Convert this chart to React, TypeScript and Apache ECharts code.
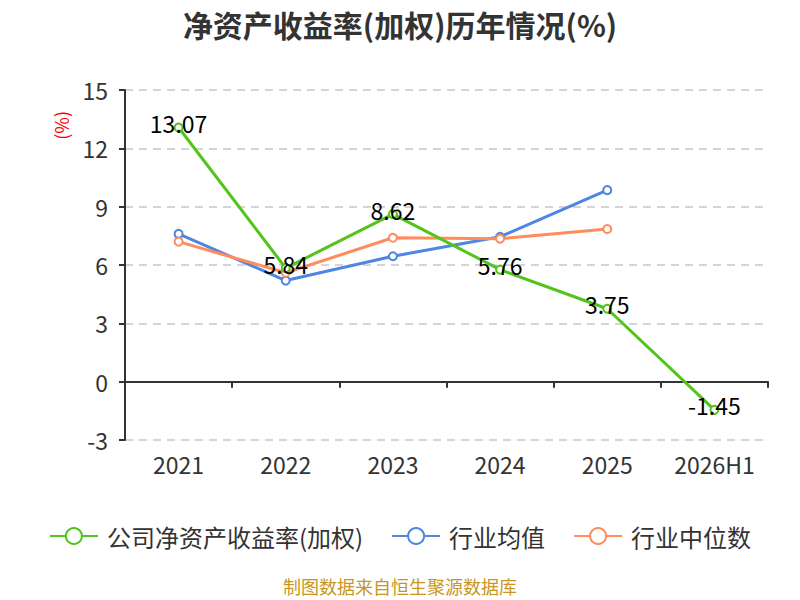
import React, { useEffect, useRef } from "react";
import * as echarts from "echarts";

const categories = ["2021", "2022", "2023", "2024", "2025", "2026H1"];
const companyRoe = [13.07, 5.84, 8.62, 5.76, 3.75, -1.45];
const industryAvg = [7.6, 5.2, 6.45, 7.45, 9.85, null];
const industryMedian = [7.2, 5.6, 7.4, 7.35, 7.85, null];
const seriesNames = ["公司净资产收益率(加权)", "行业均值", "行业中位数"];

const FONT = "'Noto Sans CJK SC', 'Noto Sans', sans-serif";

export default function App() {
  const ref = useRef<HTMLDivElement>(null);
  useEffect(() => {
    if (!ref.current) return;
    const chart = echarts.init(ref.current, null, { renderer: "svg" });
    const mkSeries = (name: string, data: any[], color: string, label: boolean) => ({
      name,
      type: "line",
      data,
      xAxisIndex: 0,
      symbol: "emptyCircle",
      symbolSize: 8,
      lineStyle: { width: 3, color },
      itemStyle: { color, borderWidth: 1.5 },
      label: label
        ? { show: true, position: "top", distance: -12, color: "#000", fontSize: 23, fontFamily: FONT }
        : { show: false },
      z: label ? 3 : 2,
    });
    chart.setOption({
      animation: false,
      textStyle: { fontFamily: FONT },
      title: {
        text: "净资产收益率(加权)历年情况(%)",
        left: "center",
        top: 4,
        textStyle: { fontSize: 30, fontWeight: "bold", color: "#333", fontFamily: FONT },
      },
      graphic: [
        {
          type: "text",
          left: 52,
          top: 111,
          rotation: Math.PI / 2,
          style: { text: "(%)", fill: "#ff0000", fontSize: 18, fontFamily: FONT },
        },
        {
          type: "text",
          left: "center",
          top: 577,
          style: { text: "制图数据来自恒生聚源数据库", fill: "#c8961e", fontSize: 18, fontFamily: FONT },
        },
      ],
      legend: {
        data: seriesNames,
        bottom: 47,
        left: "center",
        itemWidth: 48,
        itemHeight: 20,
        itemGap: 28,
        textStyle: { fontSize: 24, color: "#333", fontFamily: FONT, padding: [0, 0, 0, 4] },
      },
      grid: { left: 125, right: 32, top: 90, bottom: 160 },
      xAxis: [
        {
          type: "category",
          data: categories,
          axisLine: { onZero: true, lineStyle: { color: "#333", width: 2 } },
          axisTick: { show: true, length: 6, lineStyle: { color: "#333", width: 2 } },
          axisLabel: { show: false },
        },
        {
          type: "category",
          data: categories,
          position: "bottom",
          axisLine: { show: false },
          axisTick: { show: false },
          axisLabel: { show: true, fontSize: 23, color: "#333", margin: 12, fontFamily: FONT },
        },
      ],
      yAxis: {
        type: "value",
        min: -3,
        max: 15,
        interval: 3,
        axisLine: { show: true, lineStyle: { color: "#333", width: 2 } },
        axisTick: { show: true, length: 6, lineStyle: { color: "#333", width: 2 } },
        axisLabel: { fontSize: 23, color: "#333", margin: 17, fontFamily: FONT },
        splitLine: { show: true, lineStyle: { type: [8, 6], color: "#c8c8c8", width: 1.5 } },
      },
      series: [
        mkSeries(seriesNames[0], companyRoe, "#52c41a", true),
        mkSeries(seriesNames[1], industryAvg, "#4e86e4", false),
        mkSeries(seriesNames[2], industryMedian, "#ff8c5a", false),
      ],
    });
    return () => chart.dispose();
  }, []);
  return <div ref={ref} style={{ position: "absolute", left: 0, top: 0, width: 800, height: 600 }} />;
}
